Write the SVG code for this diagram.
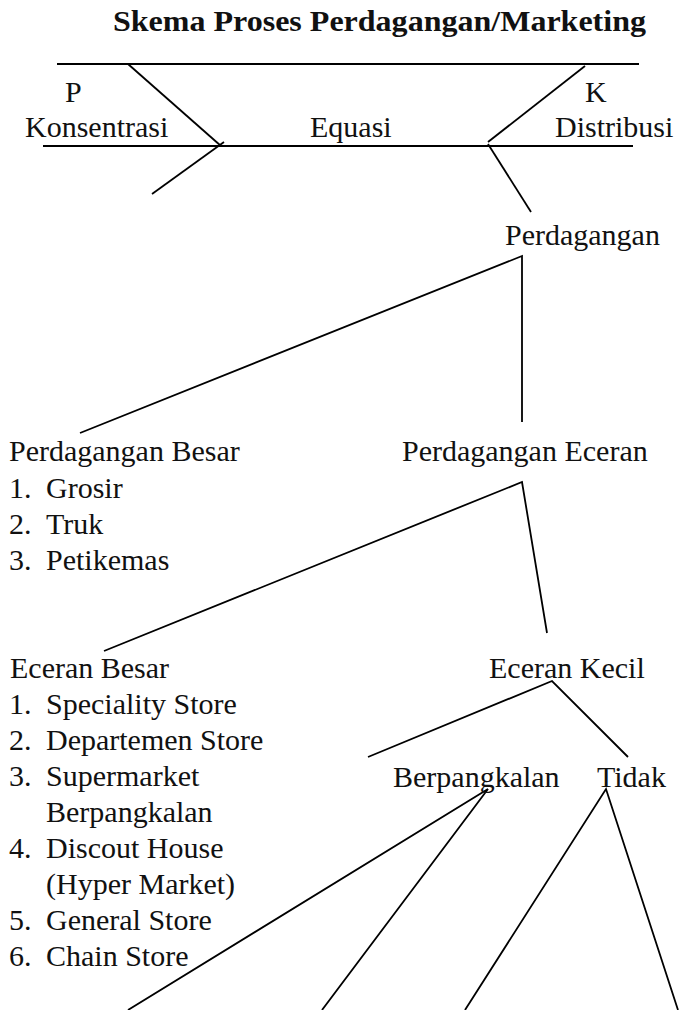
<svg xmlns="http://www.w3.org/2000/svg" width="681" height="1010" viewBox="0 0 681 1010">
  <style>
    text { font-family: "Liberation Serif", "DejaVu Serif", serif; font-size: 30px; fill: #111; }
    .title { font-weight: bold; }
    .ln { stroke: #000; stroke-width: 1.8; fill: none; stroke-linecap: butt; }
  </style>
  <rect width="681" height="1010" fill="#fff"/>

  <g id="title">
    <text class="title" x="113" y="31" textLength="533" lengthAdjust="spacingAndGlyphs">Skema Proses Perdagangan/Marketing</text>
  </g>

  <!-- upper scheme: P / K bars, concentration, equalisation, distribution -->
  <g id="scheme-labels">
    <text x="65" y="102">P</text>
    <text x="585" y="102">K</text>
    <text x="25" y="137">Konsentrasi</text>
    <text x="310" y="137">Equasi</text>
    <text x="555" y="137">Distribusi</text>
  </g>

  <g id="connectors">
    <line class="ln" x1="57" y1="64" x2="639" y2="64"/>
    <line class="ln" x1="43" y1="146" x2="633" y2="146"/>
    <line class="ln" x1="128" y1="64" x2="221" y2="146"/>
    <line class="ln" x1="224" y1="142" x2="152" y2="194"/>
    <line class="ln" x1="585" y1="66" x2="488" y2="142"/>
    <line class="ln" x1="488" y1="144" x2="531" y2="212"/>

    <polyline class="ln" points="80,433 522,256 522,422"/>
    <polyline class="ln" points="104,651 522,482 547,633"/>
    <polyline class="ln" points="368,757 552,681 628,757"/>
    <polyline class="ln" points="128,1010 488,789 322,1010"/>
    <polyline class="ln" points="465,1010 606,789 678,1010"/>
  </g>

  <g id="node-perdagangan">
    <text x="505" y="245">Perdagangan</text>
  </g>

  <g id="node-perdagangan-besar">
    <text x="9" y="461">Perdagangan Besar</text>
    <text x="9" y="498">1.</text><text x="46" y="498">Grosir</text>
    <text x="9" y="534">2.</text><text x="46" y="534">Truk</text>
    <text x="9" y="570">3.</text><text x="46" y="570">Petikemas</text>
  </g>

  <g id="node-perdagangan-eceran">
    <text x="402" y="461">Perdagangan Eceran</text>
  </g>

  <g id="node-eceran-besar">
    <text x="10" y="678">Eceran Besar</text>
    <text x="9" y="714">1.</text><text x="46" y="714">Speciality Store</text>
    <text x="9" y="750">2.</text><text x="46" y="750">Departemen Store</text>
    <text x="9" y="786">3.</text><text x="46" y="786">Supermarket</text>
    <text x="46" y="822">Berpangkalan</text>
    <text x="9" y="858">4.</text><text x="46" y="858">Discout House</text>
    <text x="46" y="894">(Hyper Market)</text>
    <text x="9" y="930">5.</text><text x="46" y="930">General Store</text>
    <text x="9" y="966">6.</text><text x="46" y="966">Chain Store</text>
  </g>

  <g id="node-eceran-kecil">
    <text x="489" y="678">Eceran Kecil</text>
  </g>

  <g id="node-berpangkalan">
    <text x="393" y="787">Berpangkalan</text>
  </g>

  <g id="node-tidak">
    <text x="597" y="787">Tidak</text>
  </g>
</svg>
